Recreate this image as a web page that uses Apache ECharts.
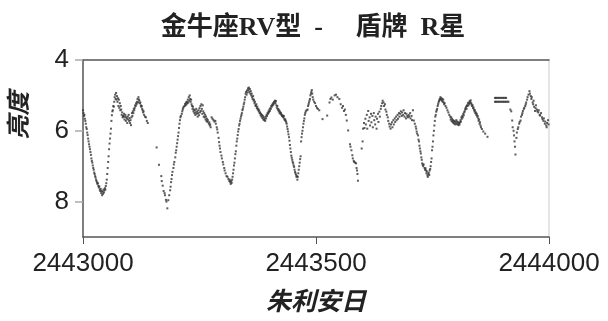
<!DOCTYPE html>
<html>
<head>
<meta charset="utf-8">
<script src="https://cdn.jsdelivr.net/npm/echarts@6/dist/echarts.min.js"></script>
<style>
  html, body { margin: 0; padding: 0; background: #fff; }
  #chart { width: 608px; height: 321px; }
</style>
</head>
<body>
<div id="chart"></div>
<script>
// Light curve of R Scuti (RV Tauri type variable), visual magnitudes.
const titleText = '金牛座RV型  -     盾牌  R星';
const xAxisTitle = '朱利安日';
const yAxisTitle = '亮度';
const jdStart = 2443000;
const jdEnd = 2444000;
const jdTickStep = 500;
const magMin = 4;
const magMax = 9;
const magTickStep = 2;

// Observations: [days after JD 2443000, magnitude]
const observations = [
  [0,5.42],[1,5.5],[2,5.58],[3,5.55],[4,5.66],[5,5.72],[6,5.8],[7,5.9],[8,5.95],[9,6.05],[10,6.12],[11,6.22],[12,6.3],[13,6.38],[14,6.45],[15,6.52],[16,6.6],[17,6.68],[18,6.78],[19,6.85],[20,6.9],[21,6.98],[22,7.05],[23,7.1],[24,7.18],[25,7.22],[26,7.28],[27,7.32],[28,7.38],[29,7.42],[30,7.46],[31,7.5],[32,7.48],[33,7.56],[34,7.6],[35,7.57],[36,7.66],[37,7.7],[38,7.64],[39,7.76],[40,7.7],[41,7.82],[42,7.72],[43,7.78],[44,7.66],[45,7.74],[46,7.68],[47,7.62],[48,7.66],[49,7.56],[50,7.48],[51,7.38],[52,7.22],[53,7.05],[54,6.88],[55,6.72],[56,6.52],[57,6.36],[58,6.22],[59,6.08],[60,5.94],[61,5.72],[62,5.56],[63,5.45],[64,5.42],[65,5.3],[66,5.32],[67,5.18],[68,5.05],[69,4.98],[70,5.1],[71,4.93],[72,5.12],[73,5.02],[74,5.18],[75,5.08],[76,5.3],[77,5.12],[78,5.35],[79,5.22],[80,5.42],[81,5.3],[82,5.4],[83,5.55],[84,5.48],[85,5.62],[86,5.58],[87,5.6],[88,5.52],[89,5.68],[90,5.6],[91,5.55],[92,5.72],[93,5.62],[94,5.66],[95,5.78],[96,5.6],[97,5.68],[98,5.55],[99,5.72],[100,5.64],[101,5.78],[102,5.7],[103,5.84],[104,5.62],[105,5.5],[106,5.58],[107,5.45],[108,5.5],[109,5.38],[110,5.42],[111,5.35],[112,5.28],[113,5.3],[114,5.22],[115,5.25],[116,5.18],[117,5.1],[118,5.2],[119,5.05],[120,5.12],[121,5.15],[122,5.22],[123,5.2],[124,5.28],[125,5.32],[126,5.3],[127,5.38],[128,5.42],[129,5.48],[130,5.45],[131,5.55],[133,5.6],[135,5.62],[137,5.72],[139,5.78],
  [158,6.47],[163,6.96],[168,7.28],[169,7.42],[171,7.55],[173,7.7],[175,7.76],[176,7.82],[178,7.95],[179,8.0],[181,8.19],[183,7.96],[185,7.82],[187,7.68],[188,7.58],[189,7.45],[190,7.36],[191,7.25],[192,7.16],[194,7.05],[195,6.95],[196,6.88],[198,6.75],[199,6.62],[200,6.55],[201,6.45],[202,6.35],[203,6.25],[204,6.15],[205,6.05],[206,5.92],[207,5.8],[208,5.7],[209,5.62],[210,5.58],[212,5.52],[213,5.45],[214,5.4],[215,5.36],[216,5.32],[218,5.3],[219,5.24],[220,5.28],[221,5.2],[222,5.25],[223,5.18],[224,5.22],[225,5.12],[226,5.2],[227,5.05],[228,5.15],[229,5.0],[230,5.1],[231,5.18],[232,5.12],[233,5.25],[234,5.3],[235,5.38],[236,5.32],[237,5.45],[238,5.4],[239,5.5],[240,5.42],[241,5.55],[242,5.48],[243,5.38],[244,5.52],[245,5.45],[246,5.6],[247,5.5],[248,5.42],[249,5.56],[250,5.36],[251,5.48],[252,5.3],[253,5.44],[254,5.25],[255,5.38],[256,5.52],[257,5.28],[258,5.45],[259,5.6],[260,5.5],[261,5.62],[262,5.55],[263,5.68],[264,5.6],[265,5.72],[266,5.66],[267,5.75],[268,5.7],[270,5.8],[271,5.76],[272,5.85],[273,5.82],[274,5.9],
  [276,5.62],[278,5.66],[280,5.7],[282,5.74],[284,5.72],[285,5.8],[287,5.9],[288,5.96],[289,6.05],[291,6.2],[292,6.32],[293,6.42],[294,6.5],[295,6.6],[297,6.7],[298,6.78],[300,6.88],[301,6.95],[303,7.05],[304,7.12],[306,7.2],[308,7.28],[310,7.3],[312,7.36],[314,7.42],[315,7.38],[316,7.45],[317,7.5],[318,7.42],[319,7.47],[320,7.38],[321,7.3],[322,7.2],[323,7.1],[324,6.98],[325,6.9],[326,6.78],[327,6.66],[328,6.58],[329,6.42],[330,6.3],[331,6.22],[332,6.12],[333,6.02],[334,5.95],[335,5.85],[336,5.8],[337,5.72],[338,5.66],[339,5.6],[340,5.55],[341,5.5],[342,5.42],[343,5.38],[344,5.32],[345,5.25],[346,5.2],[347,5.12],[348,5.05],[349,4.95],[350,4.9],[351,4.98],[352,4.86],[353,4.92],[354,4.8],[355,4.85],[356,4.78],[357,4.9],[358,4.82],[359,4.95],[360,4.88],[361,5.0],[362,4.95],[363,5.05],[364,5.1],[365,5.02],[366,5.15],[367,5.12],[368,5.22],[369,5.18],[370,5.28],[371,5.3],[372,5.25],[373,5.36],[374,5.32],[375,5.4],[376,5.38],[377,5.45],[378,5.42],[379,5.5],[380,5.48],[381,5.56],[382,5.52],[383,5.6],[384,5.55],[385,5.64],[386,5.58],[387,5.68],[388,5.62],[389,5.7],[390,5.66],[391,5.72],[392,5.6],[393,5.65],[394,5.55],[395,5.58],[396,5.5],[397,5.52],[398,5.45],[399,5.48],[400,5.4],[401,5.44],[402,5.36],[403,5.38],[404,5.3],[405,5.32],[406,5.26],[407,5.28],[408,5.22],[409,5.25],[410,5.18],[411,5.2],[412,5.15],[413,5.22],[414,5.16],[415,5.28],[416,5.35],[417,5.3],[418,5.4],[419,5.38],[420,5.45],[421,5.42],[422,5.5],[423,5.46],[424,5.52],[425,5.5],[426,5.55],[427,5.58],[428,5.56],[429,5.6],[430,5.62],[431,5.58],[432,5.66],[433,5.7],[434,5.68],[435,5.72],[436,5.76],[437,5.8],[438,5.88],[439,5.95],[440,6.02],[441,6.1],[442,6.18],[443,6.28],[444,6.4],[445,6.5],[446,6.6],[447,6.7],[448,6.76],[449,6.82],[450,6.88],[451,6.92],[452,6.98],[453,7.02],[454,7.1],[455,7.16],[456,7.2],[457,7.24],[458,7.3],[459,7.28],[460,7.38],[461,7.3],[462,7.2],[463,7.1],[464,7.0],[465,6.9],[466,6.8],[467,6.72],[468,6.3],[469,6.18],[470,6.08],[471,6.0],[472,5.9],[473,5.8],[474,5.72],[475,5.65],[476,5.55],[477,5.5],[478,5.45],[480,5.42],[482,5.4],[483,5.3],[484,5.25],[485,5.2],[486,5.15],[487,5.1],[488,5.0],[489,4.95],[490,4.9],[491,4.85],[492,4.95],[493,5.05],[494,5.12],[496,5.18],[498,5.22],[500,5.3],[502,5.35],
  [504,5.38],[507,5.42],[514,5.67],[524,5.57],[529,5.2],[531,5.1],[533,5.06],[536,5.12],[540,5.0],[543,4.98],[546,5.05],[550,5.1],[553,5.25],[556,5.35],[558,5.3],[560,5.44],[562,5.4],[564,5.55],[566,5.71],[569,5.99],
  [573,6.38],[574,6.45],[576,6.55],[578,6.69],[579,6.78],[581,6.85],[582,6.88],[584,6.9],[586,6.92],[587,7.05],[588,7.12],[589,7.22],[590,7.41],
  [598,6.5],[600,6.3],[601,5.94],[603,5.78],[604,5.92],[606,5.66],[607,5.82],[609,5.55],[610,5.94],[612,5.44],[613,5.72],[615,5.62],[616,5.85],[618,5.52],[619,5.76],[621,5.58],[622,5.9],[624,5.5],[625,5.7],[627,5.82],[628,5.6],[630,5.94],[631,5.66],[633,5.52],[634,5.75],[636,5.46],[637,5.6],[639,5.38],[640,5.3],[642,5.22],[643,5.15],[645,5.2],[646,5.3],[648,5.25],[649,5.4],[651,5.46],[652,5.55],[654,5.62],[655,5.72],[657,5.8],[658,5.88],[660,5.94],[661,5.82],[663,5.76],[664,5.9],[666,5.7],[667,5.82],[669,5.65],[670,5.75],[672,5.6],[673,5.7],[675,5.55],[676,5.66],[678,5.5],[679,5.6],[681,5.52],[682,5.45],[684,5.58],[685,5.48],[687,5.55],[688,5.42],[690,5.6],[691,5.5],[693,5.65],[694,5.52],[696,5.58],[697,5.62],[699,5.55],[700,5.6],[702,5.5],[703,5.65],[705,5.58],[706,5.7],[708,5.42],
  [710,5.71],[712,5.8],[714,5.88],[715,5.94],[716,6.02],[717,6.08],[719,6.13],[720,6.25],[721,6.3],[722,6.42],[723,6.5],[724,6.58],[725,6.64],[726,6.75],[727,6.82],[728,6.92],[729,6.96],[730,7.0],[731,6.95],[733,7.05],[734,7.1],[735,7.06],[736,7.12],[737,7.2],[738,7.15],[739,7.26],[740,7.3],[741,7.22],[742,7.18],[743,7.25],[744,7.12],[745,7.08],[746,7.0],[747,6.88],[748,6.78],[749,6.55],[750,6.45],[751,6.3],[752,6.13],[753,6.0],[754,5.85],[755,5.72],[756,5.6],[757,5.55],[758,5.46],[759,5.42],[760,5.38],[761,5.3],[762,5.25],[763,5.2],[764,5.16],[765,5.12],[766,5.1],[767,5.05],[768,5.12],[769,5.08],[770,5.15],[771,5.1],[772,5.18],[773,5.12],[774,5.2],[775,5.25],
  [776,5.22],[778,5.3],[780,5.35],[782,5.42],[784,5.48],[786,5.55],[788,5.6],[789,5.68],[790,5.62],[791,5.72],[792,5.66],[793,5.75],[794,5.7],[795,5.78],[796,5.72],[797,5.8],[798,5.74],[799,5.82],[800,5.76],[801,5.7],[802,5.8],[803,5.74],[804,5.82],[805,5.76],[806,5.84],[807,5.78],[808,5.82],[809,5.76],[810,5.7],[811,5.74],[812,5.62],[813,5.66],[814,5.58],[815,5.62],[816,5.52],[817,5.56],[818,5.48],[819,5.45],[820,5.4],[821,5.36],[822,5.32],[823,5.38],[824,5.28],[825,5.3],[826,5.22],[827,5.28],[828,5.2],[829,5.24],[830,5.16],[831,5.2],[832,5.14],[833,5.22],[834,5.26],[835,5.3],[836,5.28],[837,5.36],[838,5.34],[839,5.4],[840,5.45],[841,5.42],[842,5.5],[843,5.48],[844,5.55],[845,5.52],[846,5.6],[847,5.58],[848,5.65],[849,5.72],[850,5.68],[851,5.8],[852,5.76],[853,5.85],[854,5.9],[856,5.95],[859,6.02],[863,6.08],[868,6.17],
  [884,5.07],[886,5.07],[888,5.07],[891,5.07],[893,5.07],[896,5.07],[898,5.07],[901,5.07],[903,5.07],[906,5.07],[908,5.07],
  [884,5.18],[886,5.18],[888,5.18],[891,5.18],[893,5.18],[896,5.18],[898,5.18],[901,5.18],[903,5.18],[906,5.18],[908,5.18],[911,5.18],[913,5.18],
  [917,5.4],[919,5.45],[921,5.71],[922,5.9],[924,6.0],[925,6.13],[926,6.3],[927,6.45],[928,6.67],[930,6.2],[931,6.05],[933,5.95],[934,5.9],[936,5.8],[937,5.75],[939,5.71],[940,5.6],[942,5.55],[943,5.5],[944,5.44],[946,5.38],[947,5.35],[949,5.3],[950,5.25],[951,5.2],[953,5.12],[954,5.05],[956,4.98],[958,4.88],[959,4.95],[961,5.02],[962,5.1],[963,5.05],[965,5.2],[966,5.25],[967,5.15],[968,5.32],[970,5.44],[971,5.36],[972,5.28],[974,5.4],[975,5.45],[977,5.48],[978,5.42],[980,5.55],[981,5.57],[983,5.5],[985,5.62],[986,5.67],[988,5.72],[989,5.65],[991,5.8],[992,5.74],[994,5.85],[995,5.9],[996,5.78],[998,5.7],[999,5.82]
];

const points = observations.map(([day, mag]) => [jdStart + day, mag]);

const sansFont = '"Liberation Sans", Arial, sans-serif';
const serifFont = '"Liberation Serif", "Noto Sans CJK SC", serif';
const axisDark = '#555';
const axisLight = '#aaa';

const chart = echarts.init(document.getElementById('chart'), null, { renderer: 'canvas' });

chart.setOption({
  animation: false,
  backgroundColor: '#fff',
  title: {
    text: titleText,
    left: 308,
    textAlign: 'center',
    top: 10,
    textStyle: {
      fontFamily: serifFont,
      fontSize: 26,
      fontWeight: 'bold',
      color: '#222'
    }
  },
  grid: { left: 83, right: 59, top: 60, bottom: 81, containLabel: false },
  xAxis: [{
    type: 'value',
    min: jdStart,
    max: jdEnd,
    interval: jdTickStep,
    position: 'bottom',
    name: xAxisTitle,
    nameLocation: 'middle',
    nameGap: 54,
    nameTextStyle: {
      fontFamily: serifFont,
      fontSize: 25,
      fontStyle: 'italic',
      fontWeight: 'bold',
      color: '#222'
    },
    axisLine: { lineStyle: { color: axisDark, width: 1.5 } },
    axisTick: { show: true, inside: false, length: 7, lineStyle: { color: axisDark } },
    axisLabel: {
      fontFamily: sansFont,
      fontSize: 26,
      color: '#222',
      margin: 14,
      formatter: v => String(v)
    },
    splitLine: { show: false }
  }, {
    type: 'value',
    min: jdStart,
    max: jdEnd,
    position: 'top',
    axisLine: { show: true, lineStyle: { color: axisDark, width: 1.5 } },
    axisTick: { show: false },
    axisLabel: { show: false },
    splitLine: { show: false }
  }],
  yAxis: [{
    type: 'value',
    inverse: true,
    min: magMin,
    max: magMax,
    interval: magTickStep,
    position: 'left',
    name: yAxisTitle,
    nameLocation: 'middle',
    nameGap: 50,
    nameRotate: 90,
    nameTextStyle: {
      fontFamily: serifFont,
      fontSize: 24,
      fontStyle: 'italic',
      fontWeight: 'bold',
      color: '#222',
      padding: [0, 0, 0, 66]
    },
    axisLine: { show: true, lineStyle: { color: axisDark, width: 1.5 } },
    axisTick: { show: true, inside: false, length: 8, lineStyle: { color: axisLight, width: 1.5 } },
    axisLabel: {
      fontFamily: sansFont,
      fontSize: 26,
      color: '#222',
      margin: 14,
      showMaxLabel: false
    },
    splitLine: { show: false }
  }, {
    type: 'value',
    inverse: true,
    min: magMin,
    max: magMax,
    position: 'right',
    axisLine: { show: true, lineStyle: { color: '#ddd', width: 1.5 } },
    axisTick: { show: false },
    axisLabel: { show: false },
    splitLine: { show: false }
  }],
  series: [{
    type: 'scatter',
    xAxisIndex: 0,
    yAxisIndex: 0,
    data: points,
    symbol: 'rect',
    symbolSize: 2,
    itemStyle: { color: '#333' },
    silent: true
  }]
});
</script>
</body>
</html>
